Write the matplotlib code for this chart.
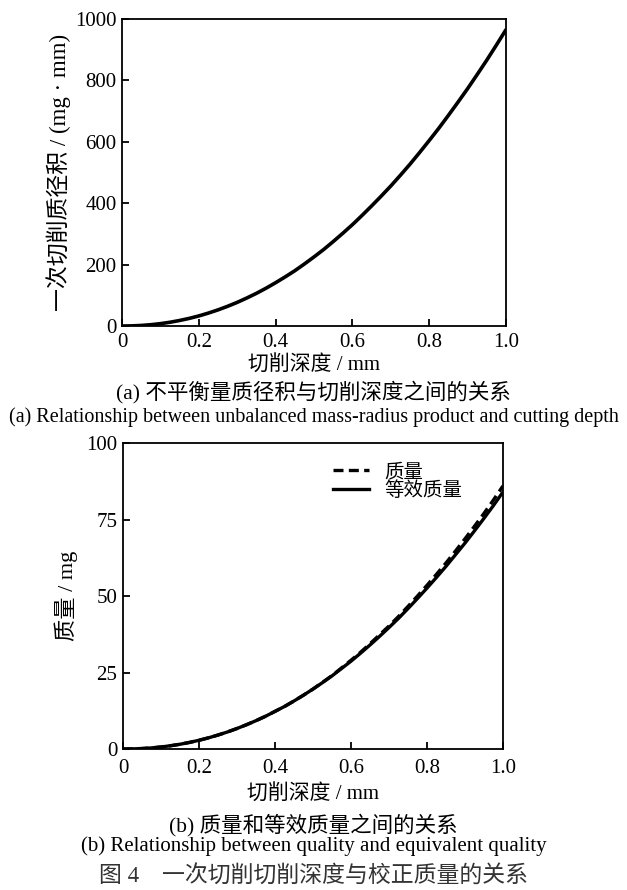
import matplotlib
matplotlib.use("Agg")
import matplotlib.pyplot as plt

FONT = ['Liberation Serif', 'Noto Sans CJK SC']
plt.rcParams['font.family'] = FONT

# Data
depth = [0.0, 0.025, 0.05, 0.075, 0.1, 0.125, 0.15, 0.175, 0.2, 0.225, 0.25,
         0.275, 0.3, 0.325, 0.35, 0.375, 0.4, 0.425, 0.45, 0.475, 0.5,
         0.525, 0.55, 0.575, 0.6, 0.625, 0.65, 0.675, 0.7, 0.725, 0.75,
         0.775, 0.8, 0.825, 0.85, 0.875, 0.9, 0.925, 0.95, 0.975, 1.0]
mass_radius = [0, 0.4, 1.8, 4.2, 7.7, 12.2, 18.0, 24.8, 32.8, 42.1, 52.5,
               64.2, 77.0, 91.2, 106.4, 123, 141, 160, 180, 202, 225,
               249, 275, 302, 330, 360, 391, 423, 456, 491, 527,
               565, 604, 644, 686, 729, 773, 819, 866, 915, 965]
equiv_mass = [0, 0.04, 0.16, 0.36, 0.67, 1.07, 1.56, 2.16, 2.86, 3.66, 4.57,
              5.58, 6.71, 7.94, 9.27, 10.7, 12.3, 13.9, 15.7, 17.6, 19.6,
              21.7, 23.9, 26.3, 28.7, 31.3, 34.0, 36.8, 39.7, 42.7, 45.9,
              49.2, 52.6, 56.1, 59.7, 63.5, 67.3, 71.3, 75.4, 79.6, 84.0]
mass = [0, 0.04, 0.16, 0.36, 0.67, 1.07, 1.56, 2.16, 2.86, 3.66, 4.57,
        5.58, 6.71, 7.94, 9.27, 10.7, 12.3, 13.9, 15.7, 17.6, 19.6,
        21.8, 24.0, 26.5, 29.0, 31.6, 34.4, 37.3, 40.2, 43.3, 46.6,
        50.0, 53.5, 57.1, 60.8, 64.7, 68.7, 72.8, 77.0, 81.4, 86.0]
xticks = [0, 0.2, 0.4, 0.6, 0.8, 1.0]
xticklabels = ['0', '0.2', '0.4', '0.6', '0.8', '1.0']
yticks_a = [0, 200, 400, 600, 800, 1000]
yticks_b = [0, 25, 50, 75, 100]

fig = plt.figure(figsize=(6.27, 8.90), dpi=100)

def style(ax, xpad):
    for s in ax.spines.values():
        s.set_linewidth(1.3)
    ax.tick_params(direction='in', length=5, width=1.3, labelsize=15,
                   top=False, right=False)
    ax.tick_params(axis='x', pad=xpad)
    ax.tick_params(axis='y', pad=4)
    for lab in ax.get_xticklabels() + ax.get_yticklabels():
        lab.set_family(FONT)

ax1 = fig.add_axes([0.1946, 0.6337, 0.6124, 0.3450])
ax1.plot(depth, mass_radius, color='black', lw=2.6, solid_capstyle='round')
ax1.set_xlim(0, 1.0)
ax1.set_ylim(0, 1000)
ax1.set_xticks(xticks)
ax1.set_xticklabels(xticklabels)
ax1.set_yticks(yticks_a)
ax1.set_xlabel('切削深度 / mm', fontsize=15, labelpad=2)
ax1.set_ylabel('一次切削质径积 / (mg · mm)', fontsize=16.5, labelpad=3)
style(ax1, 5)

ax2 = fig.add_axes([0.1962, 0.1584, 0.606, 0.3438])
ax2.plot(depth, mass, color='black', lw=2.4, ls=(0, (3, 1.6)), label='质量')
ax2.plot(depth, equiv_mass, color='black', lw=2.4, label='等效质量')
ax2.set_xlim(0, 1.0)
ax2.set_ylim(0, 100)
ax2.set_xticks(xticks)
ax2.set_xticklabels(xticklabels)
ax2.set_yticks(yticks_b)
ax2.set_xlabel('切削深度 / mm', fontsize=15, labelpad=4)
ax2.set_ylabel('质量 / mg', fontsize=16, labelpad=6)
style(ax2, 7)
leg = ax2.legend(loc='upper left', bbox_to_anchor=(0.527, 0.965), frameon=False,
                 handlelength=1.85, handletextpad=0.8, borderpad=0,
                 labelspacing=0.0, prop={'family': FONT, 'size': 14})

fig.text(0.5, 0.5596, '(a) 不平衡量质径积与切削深度之间的关系', ha='center', va='center', fontsize=15.5)
fig.text(0.5, 0.5315, '(a) Relationship between unbalanced mass-radius product and cutting depth',
         ha='center', va='center', fontsize=14.5)
fig.text(0.5, 0.073, '(b) 质量和等效质量之间的关系', ha='center', va='center', fontsize=15.5)
fig.text(0.5, 0.0494, '(b) Relationship between quality and equivalent quality',
         ha='center', va='center', fontsize=15)
fig.text(0.5, 0.0155, '图 4　一次切削切削深度与校正质量的关系', ha='center', va='center',
         fontsize=16.5, color='#333333')

fig.savefig('out.png', dpi=100)
